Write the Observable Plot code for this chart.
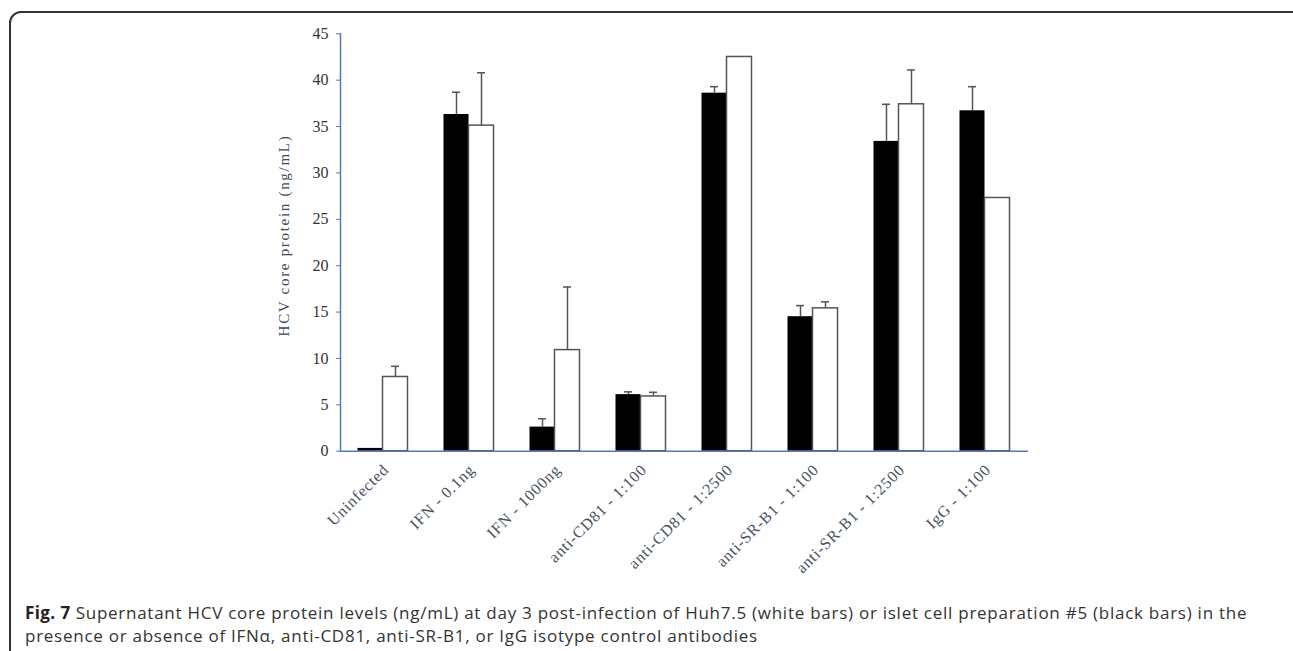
<!DOCTYPE html>
<html>
<head>
<meta charset="utf-8">
<script src="https://cdn.jsdelivr.net/npm/d3@7"></script>
<script src="https://cdn.jsdelivr.net/npm/@observablehq/plot@0.6"></script>
<style>
  html, body { margin: 0; padding: 0; background: #fff; }
  #wrap { position: relative; width: 1293px; height: 651px; overflow: hidden; background: #fff; }
  #box { position: absolute; left: 9px; top: 11px; width: 1320px; height: 720px; border: 2px solid #333; border-radius: 12px; box-sizing: border-box; }
  #chart { position: absolute; left: 0; top: 0; }
  #caption { position: absolute; left: 25px; top: 601px; width: 1260px; font-family: "Open Sans", sans-serif; font-size: 17px; letter-spacing: 0.74px; line-height: 23px; color: #333; white-space: nowrap; }
  #caption b { color: #222; letter-spacing: 0.4px; }
  #chart g[aria-label="text"] text { letter-spacing: 1.7px; }
  #chart g[aria-label="x-axis tick label"] text { letter-spacing: 0.8px; }
</style>
</head>
<body>
<div id="wrap">
  <div id="box"></div>
  <div id="chart"></div>
  <div id="caption"><b>Fig. 7</b> Supernatant HCV core protein levels (ng/mL) at day 3 post-infection of Huh7.5 (white bars) or islet cell preparation #5 (black bars) in the<br>presence or absence of IFNα, anti-CD81, anti-SR-B1, or IgG isotype control antibodies</div>
</div>
<script>
const categories = ["Uninfected", "IFN - 0.1ng", "IFN - 1000ng", "anti-CD81 - 1:100", "anti-CD81 - 1:2500", "anti-SR-B1 - 1:100", "anti-SR-B1 - 1:2500", "IgG - 1:100"];
// islet cell preparation #5 (black bars)
const isletMean = [0.3, 36.3, 2.6, 6.1, 38.6, 14.5, 33.4, 36.7];
const isletErr  = [0, 2.4, 0.9, 0.3, 0.7, 1.2, 4.0, 2.6];
// Huh7.5 (white bars)
const huhMean = [8.0, 35.1, 10.9, 5.9, 42.5, 15.4, 37.4, 27.3];
const huhErr  = [1.15, 5.7, 6.8, 0.45, 0, 0.7, 3.7, 0];
const yTicks = [0, 5, 10, 15, 20, 25, 30, 35, 40, 45];

const islet = categories.map((c, i) => ({cat: c, v: isletMean[i], e: isletErr[i]}));
const huh = categories.map((c, i) => ({cat: c, v: huhMean[i], e: huhErr[i]}));

const axisBlue = "#4f7db3";
const errColor = "#555";
const serif = "'Liberation Serif', 'Times New Roman', serif";

const chart = Plot.plot({
  width: 1293,
  height: 590,
  marginLeft: 340,
  marginRight: 265,
  marginTop: 33.3,
  marginBottom: 139.3,
  style: {background: "transparent", fontFamily: serif},
  x: {domain: categories, paddingInner: 0.709, paddingOuter: 0.3545},
  y: {domain: [0, 45]},
  marks: [
    Plot.barY(islet, {x: "cat", y: "v", fill: "black", dx: -12.5}),
    Plot.barY(huh, {x: "cat", y: "v", fill: "white", stroke: errColor, strokeWidth: 1.5, dx: 12.5}),
    Plot.ruleX(islet.filter(d => d.e > 0), {x: "cat", y1: "v", y2: d => d.v + d.e, dx: -12.5, stroke: errColor, strokeWidth: 1.5}),
    Plot.ruleX(huh.filter(d => d.e > 0), {x: "cat", y1: "v", y2: d => d.v + d.e, dx: 12.5, stroke: errColor, strokeWidth: 1.5}),
    Plot.tickY(islet.filter(d => d.e > 0), {x: "cat", y: d => d.v + d.e, dx: -12.5, insetLeft: 8.5, insetRight: 8.5, stroke: errColor, strokeWidth: 1.5}),
    Plot.tickY(huh.filter(d => d.e > 0), {x: "cat", y: d => d.v + d.e, dx: 12.5, insetLeft: 8.5, insetRight: 8.5, stroke: errColor, strokeWidth: 1.5}),
    Plot.ruleY([0], {stroke: axisBlue, strokeWidth: 1.5}),
    Plot.frame({anchor: "left", stroke: axisBlue, strokeWidth: 1.5}),
    Plot.axisY({ticks: yTicks, tickSize: 4, tickPadding: 8, stroke: axisBlue, fontSize: 16, fill: "#333", fontFamily: serif, label: null}),
    Plot.axisX({tickRotate: -45, tickSize: 0, tickPadding: 16, dx: 3, fontSize: 16, fill: "#465262", fontFamily: serif, label: null}),
    Plot.text(["HCV core protein (ng/mL)"], {frameAnchor: "left", textAnchor: "middle", rotate: -90, dx: -56, dy: -7, fontSize: 15, fill: "#3b4a5c", fontFamily: serif})
  ]
});
document.getElementById("chart").appendChild(chart);
</script>
</body>
</html>
